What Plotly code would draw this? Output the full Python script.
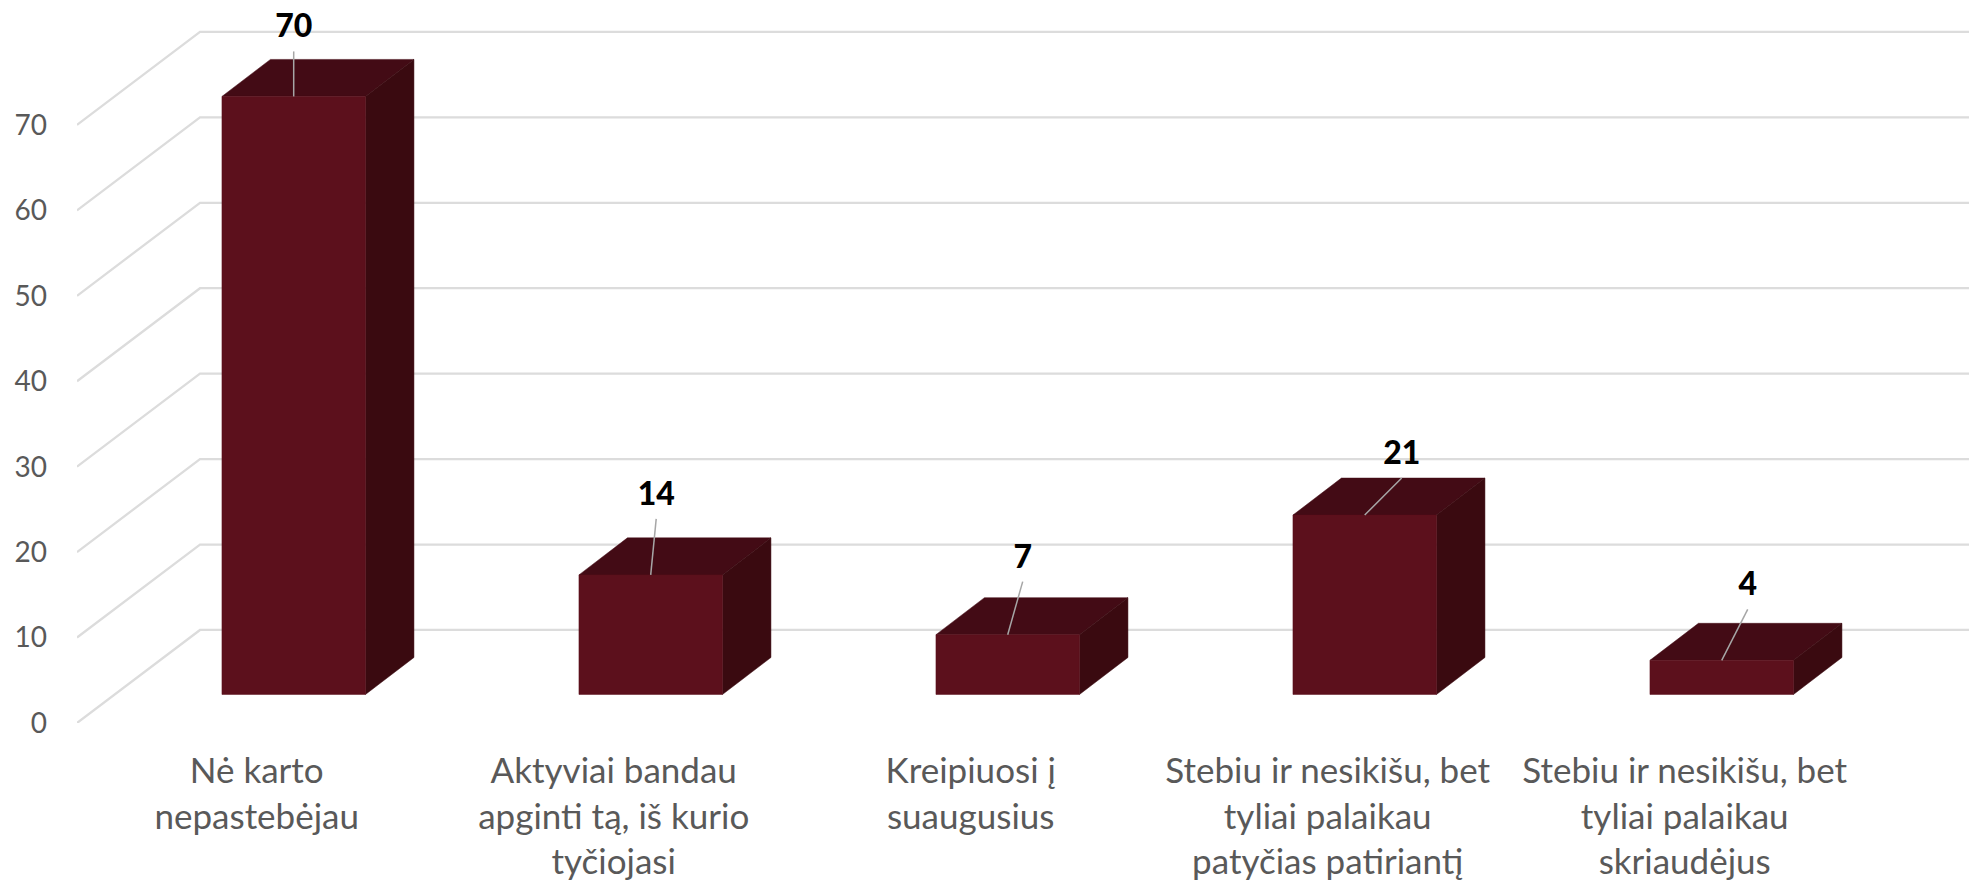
import plotly.graph_objects as go

categories = [
    ["Nė karto", "nepastebėjau"],
    ["Aktyviai bandau", "apginti tą, iš kurio", "tyčiojasi"],
    ["Kreipiuosi į", "suaugusius"],
    ["Stebiu ir nesikišu, bet", "tyliai palaikau", "patyčias patiriantį"],
    ["Stebiu ir nesikišu, bet", "tyliai palaikau", "skriaudėjus"],
]
values = [70, 14, 7, 21, 4]
y_ticks = [0, 10, 20, 30, 40, 50, 60, 70]

W, H = 1969, 881
PX_X, PX_Y = 357.0, 8.54      # px per category, px per value unit
LEFT, BASE = 77.0, 722.7      # plot-area left edge, pixel row of value 0
X0 = 256.7                    # pixel column of first category
ux = lambda px: px / PX_X
uy = lambda px: px / PX_Y

WALL_DX, WALL_DY = ux(123), uy(93)     # front plane -> back wall
BAR_DX, BAR_DY = ux(37), uy(28.5)      # front plane -> bar front face
D_DX, D_DY = ux(48.5), uy(37)          # bar depth
HALF = ux(71.75)

# data-label offsets from each bar's front-top centre (px)
label_dx = [0, 5.5, 15, 37, 26]
leader_dy = [45, 56, 53, 37, 51]
LABEL_GAP = 22

x_min = (LEFT - X0) / PX_X
x_max = (W - X0) / PX_X
y_max = BASE / PX_Y

FRONT, TOP, SIDE = "#5C101C", "#430B15", "#3A0A10"
GRID, LEADER, TEXT = "#DCDCDC", "#A6A6A6", "#595959"

fig = go.Figure()

for v in y_ticks:
    fig.add_trace(go.Scatter(
        x=[x_min, x_min + WALL_DX, x_max],
        y=[v, v + WALL_DY, v + WALL_DY],
        mode="lines", line=dict(color=GRID, width=2.3),
        hoverinfo="skip", showlegend=False))


def face(xs, ys, color):
    fig.add_trace(go.Scatter(
        x=xs, y=ys, mode="lines", fill="toself", fillcolor=color,
        line=dict(color=color, width=0.5),
        hoverinfo="skip", showlegend=False))


for i, v in enumerate(values):
    l, r = i + BAR_DX - HALF, i + BAR_DX + HALF
    b, t = BAR_DY, v + BAR_DY
    face([l, r, r + D_DX, l + D_DX, l], [t, t, t + D_DY, t + D_DY, t], TOP)
    face([r, r + D_DX, r + D_DX, r, r], [b, b + D_DY, t + D_DY, t, b], SIDE)
    face([l, r, r, l, l], [b, b, t, t, b], FRONT)

lx, ly = [], []
for i, v in enumerate(values):
    cx, top = i + BAR_DX, v + BAR_DY
    ex, ey = cx + ux(label_dx[i]), top + uy(leader_dy[i])
    fig.add_trace(go.Scatter(
        x=[cx, ex], y=[top, ey], mode="lines",
        line=dict(color=LEADER, width=1.5),
        hoverinfo="skip", showlegend=False))
    lx.append(ex)
    ly.append(ey + uy(LABEL_GAP))

fig.add_trace(go.Scatter(
    x=lx, y=ly, mode="text", text=[str(v) for v in values],
    textposition="middle center",
    textfont=dict(family="Lato", size=32, color="#000000", weight=900),
    cliponaxis=False, hoverinfo="skip", showlegend=False))

fig.update_layout(
    width=W, height=H,
    margin=dict(l=LEFT, r=0, t=0, b=H - BASE, pad=0),
    paper_bgcolor="#FFFFFF", plot_bgcolor="#FFFFFF",
    showlegend=False,
    font=dict(family="Lato", color=TEXT),
    xaxis=dict(
        range=[x_min, x_max], showgrid=False, zeroline=False, showline=False,
        tickmode="array", tickvals=list(range(len(categories))),
        ticktext=["<br>".join(c) for c in categories],
        tickfont=dict(family="Lato", size=35, color=TEXT),
        tickangle=0, ticklen=0, ticklabelstandoff=24, automargin=False),
    yaxis=dict(
        range=[0, y_max], showgrid=False, zeroline=False, showline=False,
        tickmode="array", tickvals=y_ticks,
        tickfont=dict(family="Lato", size=28, color=TEXT),
        ticklen=0, ticklabelstandoff=29, automargin=False),
)

fig.write_html("out.html",
               config={"displayModeBar": False},
               post_script="document.body.style.margin='0';document.documentElement.style.overflow='hidden';")
